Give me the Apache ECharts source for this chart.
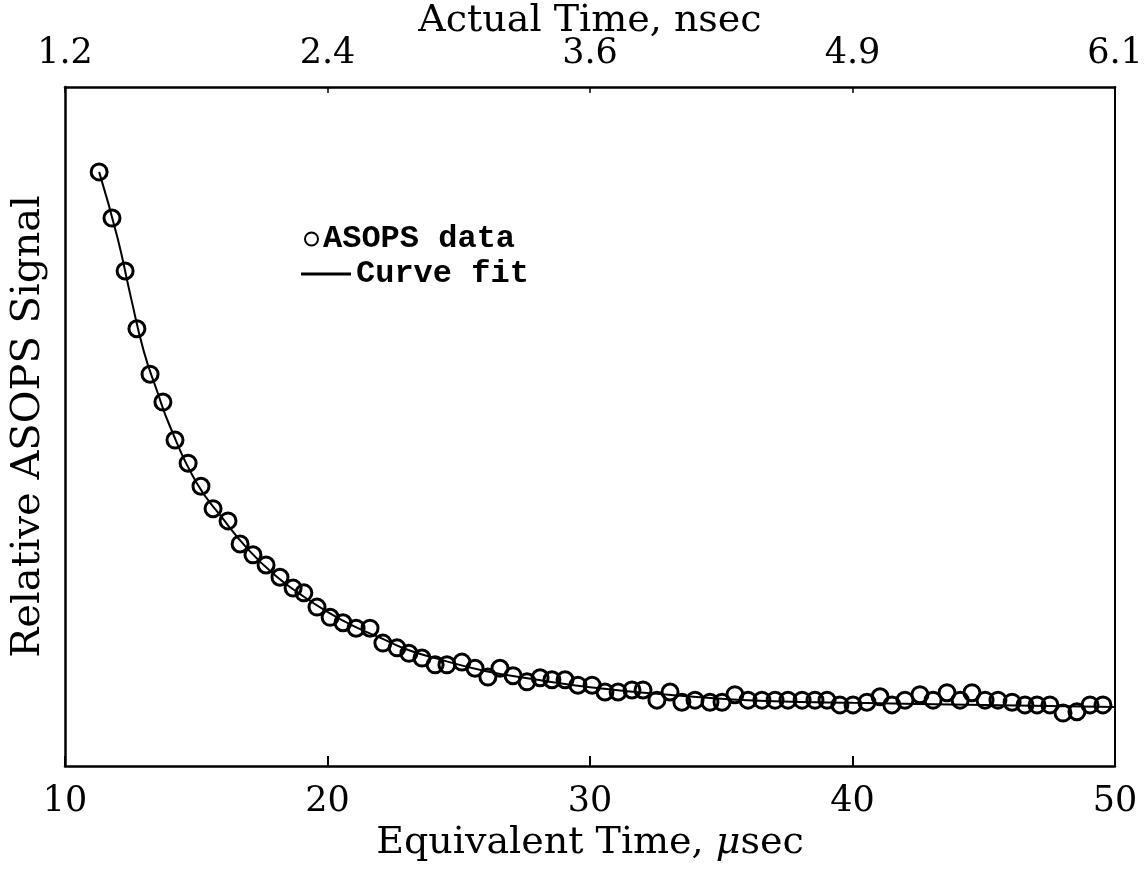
<!DOCTYPE html>
<html>
<head>
<meta charset="utf-8">
<script src="https://cdn.jsdelivr.net/npm/echarts@6/dist/echarts.min.js"></script>
<style>
  html, body { margin: 0; padding: 0; background: #fff; }
  #main { width: 1147px; height: 874px; }
</style>
</head>
<body>
<div id="main"></div>
<script>
// equivalent time (usec) of each measured point
const dataTime = [
  11.30, 11.79, 12.29, 12.74, 13.24, 13.73, 14.19, 14.69, 15.18, 15.64,
  16.21, 16.67, 17.16, 17.66, 18.19, 18.69, 19.10, 19.60, 20.10, 20.59,
  21.09, 21.62, 22.11, 22.65, 23.10, 23.60, 24.10, 24.55, 25.12, 25.62,
  26.11, 26.57, 27.07, 27.60, 28.10, 28.55, 29.05, 29.54, 30.08, 30.57,
  31.07, 31.60, 32.02, 32.55, 33.05, 33.50, 34.00, 34.57, 35.03, 35.52,
  36.02, 36.55, 37.05, 37.54, 38.08, 38.57, 39.03, 39.52, 40.02, 40.55,
  41.05, 41.50, 42.00, 42.57, 43.07, 43.60, 44.10, 44.55, 45.05, 45.54,
  46.08, 46.57, 47.03, 47.52, 48.02, 48.55, 49.05, 49.54
];
// relative signal of each point (arbitrary units, 0..100)
const dataSignal = [
  87.5, 80.7, 72.9, 64.4, 57.7, 53.6, 48.0, 44.6, 41.2, 37.9,
  36.1, 32.7, 31.1, 29.6, 27.8, 26.2, 25.5, 23.4, 21.9, 21.1,
  20.3, 20.3, 18.1, 17.4, 16.6, 15.9, 14.9, 14.9, 15.3, 14.4,
  13.1, 14.4, 13.3, 12.4, 13.0, 12.7, 12.7, 11.9, 11.9, 10.9,
  10.9, 11.2, 11.2, 9.7, 10.9, 9.4, 9.7, 9.4, 9.4, 10.5,
  9.7, 9.7, 9.7, 9.7, 9.7, 9.7, 9.7, 9.0, 9.0, 9.4,
  10.2, 9.0, 9.7, 10.5, 9.7, 10.8, 9.7, 10.8, 9.7, 9.7,
  9.4, 9.0, 9.0, 9.0, 7.8, 8.0, 9.0, 9.0
];
// curve fit
const fitTime = [11.3, 12, 12.5, 13, 13.5, 14, 15, 16, 17, 18, 19, 20, 21, 22, 23, 24, 26, 28, 30, 33, 36, 40, 45, 50];
const fitSignal = [87.5, 77.8, 69.2, 61.1, 55.3, 50.0, 41.8, 36.5, 31.8, 28.1, 25.2, 22.7, 20.6, 18.9, 17.2, 16.0, 14.0, 12.7, 11.6, 10.5, 9.7, 9.3, 9.0, 8.7];
// top axis tick labels (actual time, nsec) placed at 10,20,...,50 usec
const topLabels = ['1.2', '2.4', '3.6', '4.9', '6.1'];

const serif = 'DejaVu Serif';
const mono = 'Liberation Mono';

let chart = echarts.init(document.getElementById('main'));
let option = {
  backgroundColor: '#fff',
  animation: false,
  grid: { left: 65, right: 32, top: 87, bottom: 108, outerBoundsMode: 'none' },
  legend: [
    {
      data: ['ASOPS data'],
      left: 299, top: 218,
      itemWidth: 13, itemHeight: 13, itemGap: 3,
      itemStyle: { color: 'rgba(0,0,0,0)', borderColor: '#000', borderWidth: 2 },
      textStyle: { fontFamily: mono, fontWeight: 'bold', fontSize: 32, color: '#000' }
    },
    {
      data: [{ name: 'Curve fit', icon: 'rect' }],
      left: 296, top: 253,
      itemWidth: 50, itemHeight: 3, itemGap: 5,
      textStyle: { fontFamily: mono, fontWeight: 'bold', fontSize: 32, color: '#000' }
    }
  ],
  xAxis: [
    {
      type: 'value', position: 'bottom',
      min: 10, max: 50, interval: 10,
      name: 'Equivalent Time, {i|μ}sec',
      nameLocation: 'middle', nameGap: 58, nameMoveOverlap: false,
      nameTextStyle: {
        fontFamily: serif, fontSize: 38, color: '#000',
        rich: { i: { fontFamily: serif, fontStyle: 'italic', fontSize: 38, color: '#000' } }
      },
      axisLine: { onZero: false, lineStyle: { color: '#000', width: 2.5 } },
      axisTick: { inside: true, length: 10, lineStyle: { color: '#000', width: 2 } },
      axisLabel: { fontFamily: serif, fontSize: 35, color: '#000', margin: 18 },
      splitLine: { show: false }
    },
    {
      type: 'value', position: 'top',
      min: 10, max: 50, interval: 10,
      name: 'Actual Time, nsec',
      nameLocation: 'middle', nameGap: 47, nameMoveOverlap: false,
      nameTextStyle: { fontFamily: serif, fontSize: 38, color: '#000' },
      axisLine: { onZero: false, lineStyle: { color: '#000', width: 2.5 } },
      axisTick: { inside: true, length: 6, lineStyle: { color: '#000', width: 1.5 } },
      axisLabel: {
        fontFamily: serif, fontSize: 35, color: '#000', margin: 16,
        formatter: v => topLabels[Math.round((v - 10) / 10)]
      },
      splitLine: { show: false }
    }
  ],
  yAxis: [
    {
      type: 'value', position: 'left',
      min: 0, max: 100,
      name: 'Relative ASOPS Signal',
      nameLocation: 'middle', nameGap: 16, nameMoveOverlap: false,
      nameTextStyle: { fontFamily: serif, fontSize: 40, color: '#000' },
      axisLine: { show: true, onZero: false, lineStyle: { color: '#000', width: 2.5 } },
      axisTick: { show: false },
      axisLabel: { show: false },
      splitLine: { show: false }
    },
    {
      type: 'value', position: 'right',
      min: 0, max: 100,
      axisLine: { show: true, onZero: false, lineStyle: { color: '#000', width: 2 } },
      axisTick: { show: false },
      axisLabel: { show: false },
      splitLine: { show: false }
    }
  ],
  series: [
    {
      name: 'Curve fit',
      type: 'line',
      smooth: true,
      showSymbol: false,
      data: fitTime.map((t, i) => [t, fitSignal[i]]),
      lineStyle: { color: '#000', width: 2 },
      itemStyle: { color: '#000' },
      z: 2
    },
    {
      name: 'ASOPS data',
      type: 'scatter',
      symbol: 'circle',
      symbolSize: 16,
      data: dataTime.map((t, i) => [t, dataSignal[i]]),
      itemStyle: { color: 'rgba(0,0,0,0)', borderColor: '#000', borderWidth: 3, opacity: 1 },
      z: 3
    }
  ]
};

option && chart.setOption(option);
</script>
</body>
</html>
